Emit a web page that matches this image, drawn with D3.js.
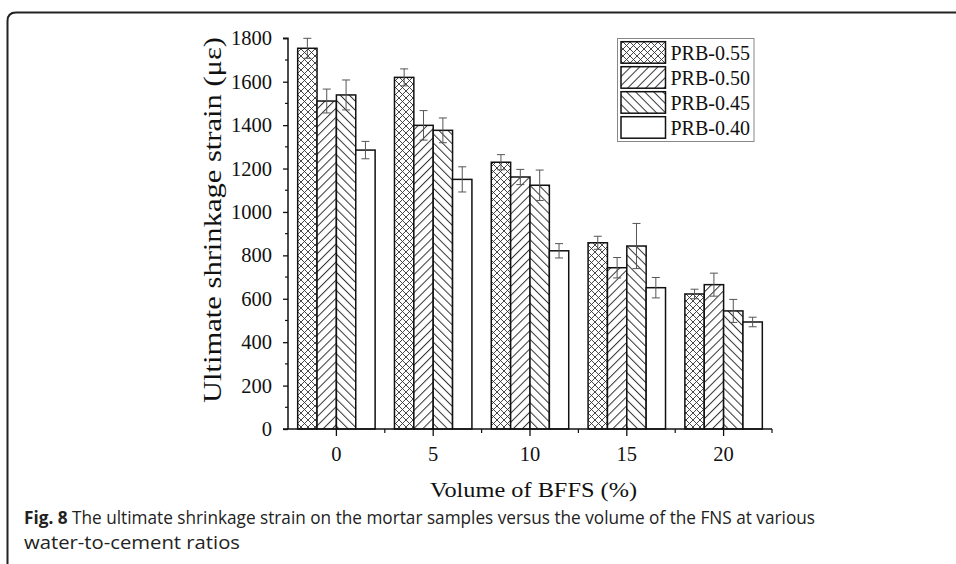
<!DOCTYPE html>
<html><head><meta charset="utf-8">
<script src="https://cdn.jsdelivr.net/npm/d3@7"></script>
<style>
html,body{margin:0;padding:0;background:#fff;}
svg{display:block;}
</style></head>
<body>
<script>
const categories = ["0", "5", "10", "15", "20"];
const series = ["PRB-0.55", "PRB-0.50", "PRB-0.45", "PRB-0.40"];
const values055 = [1754, 1620, 1229, 858, 622];
const values050 = [1511, 1399, 1161, 743, 665];
const values045 = [1539, 1376, 1123, 843, 544];
const values040 = [1285, 1150, 821, 651, 493];
const errors055 = [46, 39, 35, 30, 22];
const errors050 = [55, 68, 35, 47, 53];
const errors045 = [69, 57, 70, 104, 53];
const errors040 = [40, 58, 33, 47, 22];
const yTicks = [0, 200, 400, 600, 800, 1000, 1200, 1400, 1600, 1800];
const yTitle = "Ultimate shrinkage strain (με)";
const xTitle = "Volume of BFFS (%)";
const captionBold = "Fig. 8";
const captionLine1 = " The ultimate shrinkage strain on the mortar samples versus the volume of the FNS at various";
const captionLine2 = "water-to-cement ratios";

const seriesValues = [values055, values050, values045, values040];
const seriesErrors = [errors055, errors050, errors045, errors040];
const fills = ["url(#cross)", "url(#slash)", "url(#bslash)", "#fff"];

const W = 956, H = 564;
const svg = d3.select("body").append("svg").attr("width", W).attr("height", H);

const defs = svg.append("defs");
function linePattern(id, spacing, angle) {
  const p = defs.append("pattern").attr("id", id).attr("patternUnits", "userSpaceOnUse")
    .attr("width", spacing).attr("height", 10).attr("patternTransform", `rotate(${angle})`);
  p.append("rect").attr("width", spacing).attr("height", 10).attr("fill", "#fff");
  p.append("line").attr("x1", 0.5).attr("y1", 0).attr("x2", 0.5).attr("y2", 10)
    .attr("stroke", "#333").attr("stroke-width", 1);
}
linePattern("slash", 6.4, 45);
linePattern("bslash", 6.4, -45);
{
  const s = 7;
  const p = defs.append("pattern").attr("id", "cross").attr("patternUnits", "userSpaceOnUse")
    .attr("width", s).attr("height", s);
  p.append("rect").attr("width", s).attr("height", s).attr("fill", "#fff");
  p.append("path").attr("d", `M0,0L${s},${s}M0,${s}L${s},0`).attr("stroke", "#333").attr("stroke-width", 0.9);
}

// frame
svg.append("path")
  .attr("d", `M7.5,${H} L7.5,21 Q7.5,12.5 16,12.5 L${W},12.5`)
  .attr("fill", "none").attr("stroke", "#222").attr("stroke-width", 2);

const x = d3.scaleBand().domain(categories).range([288, 772]).padding(0);
const bw = x.bandwidth();
const xi = d3.scaleBand().domain(series).range([0.1 * bw, 0.9 * bw]).padding(0);
const y = d3.scaleLinear().domain([0, 1800]).range([429, 38.3]);

const serif = "'Liberation Serif', 'Times New Roman', serif";

// bars
const g = svg.append("g");
series.forEach((s, si) => {
  categories.forEach((c, ci) => {
    const v = seriesValues[si][ci];
    g.append("rect")
      .attr("x", x(c) + xi(s)).attr("y", y(v))
      .attr("width", xi.bandwidth()).attr("height", y(0) - y(v))
      .attr("fill", fills[si]).attr("stroke", "#111").attr("stroke-width", 1.5);
  });
});
// error bars
series.forEach((s, si) => {
  categories.forEach((c, ci) => {
    const v = seriesValues[si][ci], e = seriesErrors[si][ci];
    const cx = x(c) + xi(s) + xi.bandwidth() / 2;
    const eg = g.append("g").attr("stroke", "#555").attr("stroke-width", 1).attr("fill", "none");
    eg.append("line").attr("x1", cx).attr("x2", cx).attr("y1", y(v + e)).attr("y2", y(v - e));
    eg.append("line").attr("x1", cx - 4).attr("x2", cx + 4).attr("y1", y(v + e)).attr("y2", y(v + e));
    eg.append("line").attr("x1", cx - 4).attr("x2", cx + 4).attr("y1", y(v - e)).attr("y2", y(v - e));
  });
});

// y axis
const yAxis = d3.axisLeft(y).tickValues(yTicks).tickSize(5).tickPadding(11).tickFormat(d3.format("d"));
const ya = svg.append("g").attr("transform", "translate(288,0)").call(yAxis);
ya.select(".domain").attr("stroke", "#111").attr("stroke-width", 1.5).attr("d", `M-5,${y(1800)}H0V${y(0)}`);
ya.selectAll(".tick line").attr("stroke", "#111").attr("stroke-width", 1.3);
ya.selectAll(".tick text").attr("font-family", serif).attr("font-size", 20.5).attr("fill", "#111");
const yMinor = d3.range(100, 1800, 200);
ya.selectAll(".minor").data(yMinor).join("line").attr("class", "minor")
  .attr("x1", -3).attr("x2", 0).attr("y1", d => y(d)).attr("y2", d => y(d))
  .attr("stroke", "#111").attr("stroke-width", 1.2);

// x axis
const xAxis = d3.axisBottom(x).tickSize(7).tickPadding(10);
const xa = svg.append("g").attr("transform", `translate(0,${y(0)})`).call(xAxis);
xa.select(".domain").attr("stroke", "#111").attr("stroke-width", 1.5).attr("d", `M283,0H772`);
xa.selectAll(".tick line").attr("stroke", "#111").attr("stroke-width", 1.3);
xa.selectAll(".tick text").attr("font-family", serif).attr("font-size", 20.5).attr("fill", "#111");
const xMinor = categories.slice(1).map(c => x(c)).concat([x(categories[categories.length - 1]) + bw]);
xa.selectAll(".minor").data(xMinor).join("line").attr("class", "minor")
  .attr("x1", d => d).attr("x2", d => d).attr("y1", 0).attr("y2", 4)
  .attr("stroke", "#111").attr("stroke-width", 1.2);

// axis titles
svg.append("text").attr("transform", "translate(221,220) rotate(-90)")
  .attr("text-anchor", "middle").attr("font-family", serif).attr("font-size", 24.5).attr("fill", "#111")
  .attr("textLength", 366).attr("lengthAdjust", "spacingAndGlyphs")
  .text(yTitle);
svg.append("text").attr("x", 533.5).attr("y", 497)
  .attr("text-anchor", "middle").attr("font-family", serif).attr("font-size", 22).attr("fill", "#111")
  .attr("textLength", 207).attr("lengthAdjust", "spacingAndGlyphs")
  .text(xTitle);

// legend
const lg = svg.append("g");
lg.append("rect").attr("x", 617.5).attr("y", 38.5).attr("width", 136.5).attr("height", 103)
  .attr("fill", "#fff").attr("stroke", "#888").attr("stroke-width", 1);
series.forEach((s, si) => {
  const yy = 41.7 + si * 25;
  lg.append("rect").attr("x", 621).attr("y", yy).attr("width", 44.5).attr("height", 21.5)
    .attr("fill", fills[si]).attr("stroke", "#111").attr("stroke-width", 1.5);
  lg.append("text").attr("x", 670.5).attr("y", yy + 18).attr("font-family", serif)
    .attr("font-size", 20).attr("fill", "#111").text(s);
});

// caption
const sans = "'Liberation Sans Narrow', 'Open Sans', 'Liberation Sans', sans-serif";
const cap = svg.append("text").attr("x", 24).attr("y", 524).attr("font-family", sans)
  .attr("font-size", 17.5).attr("fill", "#222").attr("textLength", 791).attr("lengthAdjust", "spacingAndGlyphs");
cap.append("tspan").attr("font-weight", "bold").text(captionBold);
cap.append("tspan").text(captionLine1);
svg.append("text").attr("x", 24).attr("y", 549).attr("font-family", sans)
  .attr("font-size", 17.5).attr("fill", "#222").attr("textLength", 216).attr("lengthAdjust", "spacingAndGlyphs")
  .text(captionLine2);
</script>
</body></html>
